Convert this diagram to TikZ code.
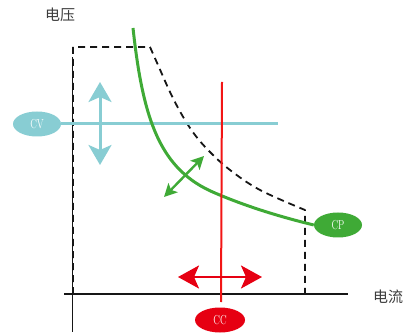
\documentclass[tikz,border=0pt]{standalone}
\usepackage{fontspec}
\usepackage{graphicx}
\newfontfamily\cjk{Noto Sans CJK SC}
\usetikzlibrary{arrows.meta,shapes.geometric}
\definecolor{ink}{HTML}{161616}
\definecolor{label}{HTML}{3C3C3C}
\definecolor{cvblue}{HTML}{88CDD3}
\definecolor{cpgreen}{HTML}{3FAA36}
\definecolor{ccred}{HTML}{E60012}
\definecolor{ccline}{HTML}{F21515}
\newcommand{\narrow}[1]{\scalebox{.72}[1]{#1}}

\begin{document}
\begin{tikzpicture}[x=1pt,y=-1pt,line join=round,
  tag/.style={ellipse,inner sep=0pt,minimum width=48pt,minimum height=25pt,
    text=white,font=\rmfamily\fontsize{13}{13}\selectfont},
  axis/.style={draw=ink,line width=1.6pt},
  bound/.style={draw=ink,line width=1.8pt,dash pattern=on 7pt off 5pt},
  title/.style={text=label,font=\cjk\fontsize{15}{17}\selectfont}]
\useasboundingbox (0,0) rectangle (406,336);

% operating limit (dashed)
\draw[bound] (73,294) -- (73,47) -- (150,47)
  plot[smooth,tension=.6] coordinates {(150,47) (158,65) (170,92) (182,115)
    (195,135) (210,152) (230,170) (260,190) (305,210)}
  -- (305,294) -- (73,294);

% axes
\draw[axis] (72.5,57) -- (72.5,332);
\draw[axis] (64,294) -- (348,294);
\node[title] (volt) at (60,15) {电压};
\node[title] (amp) at (388,297) {电流};

% mode tags
\node[tag,fill=cvblue] (cv) at (37,124) {\narrow{CV}};
\node[tag,fill=cpgreen] (cp) at (338,225) {\narrow{CP}};
\node[tag,fill=ccred,minimum width=50pt,text depth=-4pt] (cc) at (220,320) {\narrow{CC}};
\coordinate (cvend) at (278,124);
\coordinate (cctop) at (222,82);
\coordinate (ccbot) at (221,302);

% constant voltage / power / current lines
\draw[cvblue,line width=3pt] (cv.east) -- (cvend);
\draw[cpgreen,line width=3pt] (133,28) .. controls (143,120) and (160,170) .. (215,193)
  .. controls (250,208) and (285,218) .. (cp.west);
\draw[ccline,line width=2pt] (cctop) -- (ccbot);

% adjustment arrows
\coordinate (cvup) at (100,82);
\coordinate (cvdn) at (100,165);
\coordinate (cpout) at (204,156);
\coordinate (cpin) at (164,197);
\coordinate (ccl) at (178,277);
\coordinate (ccr) at (262,277);
\draw[cvblue,line width=3pt,{Stealth[length=20pt,width=23pt,inset=5pt]}-{Stealth[length=20pt,width=23pt,inset=5pt]}] (cvup) -- (cvdn);
\draw[cpgreen,line width=2.4pt,{Stealth[length=13pt,width=13pt,inset=3pt]}-{Stealth[length=13pt,width=13pt,inset=3pt]}] (cpout) -- (cpin);
\draw[ccred,line width=2.4pt,{Stealth[length=21pt,width=23pt,inset=5pt]}-{Stealth[length=21pt,width=23pt,inset=5pt]}] (ccl) -- (ccr);

\end{tikzpicture}
\end{document}
